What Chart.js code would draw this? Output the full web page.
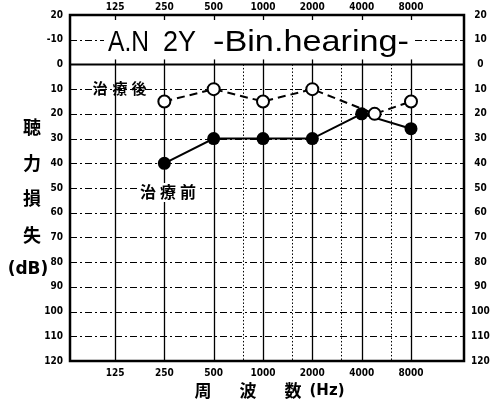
<!DOCTYPE html>
<html>
<head>
<meta charset="utf-8">
<script src="https://cdn.jsdelivr.net/npm/chart.js@4/dist/chart.umd.min.js"></script>
<style>
  html, body { margin: 0; padding: 0; background: #fff; }
  #wrap { position: relative; width: 497px; height: 408px; }
</style>
</head>
<body>
<div id="wrap"><canvas id="c" width="497" height="408"></canvas></div>
<script>
// Audiogram: frequency (Hz, log scale) vs hearing level (dB, reversed)
const freqTicks = [125, 250, 500, 1000, 2000, 4000, 8000];
const halfOctaveFreqs = [750, 1500, 3000, 6000];
const dbGridLevels = [-10, 10, 20, 30, 40, 50, 60, 70, 80, 90, 100, 110];

// 治療後 (after treatment) – open circles, dashed line
const afterFreq = [250, 500, 1000, 2000, 4800, 8000];
const afterDb = [15, 10, 15, 10, 20, 15];

// 治療前 (before treatment) – filled circles, solid line
const beforeFreq = [250, 500, 1000, 2000, 4000, 8000];
const beforeDb = [40, 30, 30, 30, 20, 26];

const titleParts = ['A.N', '2Y', '-Bin.hearing-'];
const afterLabel = '治療後';
const beforeLabel = '治療前';
const yTitleChars = ['聴', '力', '損', '失', '(dB)'];
const xTitleParts = ['周', '波', '数', '(Hz)'];

const tickFont = { family: "'Liberation Sans Narrow', 'DejaVu Sans Condensed', sans-serif", size: 10, weight: 'bold' };
const cjkFont = "'Noto Sans CJK JP', 'Noto Sans CJK SC', sans-serif";

const toPoints = (xs, ys) => xs.map((x, i) => ({ x, y: ys[i] }));

function fixedSize(size) {
  return function (scale) {
    if (scale.isHorizontal()) scale.height = size; else scale.width = size;
  };
}
function setFreqTicks(scale) {
  scale.ticks = freqTicks.map(v => ({ value: v }));
}

// draw text stretched horizontally to span x0..x1
function fitText(ctx, text, x0, x1, y) {
  const w = ctx.measureText(text).width;
  ctx.save();
  ctx.translate(x0, y);
  ctx.scale((x1 - x0) / w, 1);
  ctx.textAlign = 'left';
  ctx.fillText(text, 0, 0);
  ctx.restore();
}
// draw characters one by one at given centres
function spacedText(ctx, text, centres, y) {
  ctx.textAlign = 'center';
  Array.from(text).forEach((ch, i) => ctx.fillText(ch, centres[i], y));
}

const xCommon = {
  type: 'logarithmic',
  min: 66.4,
  max: 16850,
  grid: { display: false, drawTicks: false },
  border: { display: false },
  afterBuildTicks: setFreqTicks,
  ticks: {
    color: '#000',
    font: tickFont,
    maxRotation: 0,
    autoSkip: false,
    callback: (v) => String(v)
  }
};
const yCommon = {
  type: 'linear',
  min: -20,
  max: 120,
  reverse: true,
  grid: { display: false, drawTicks: false },
  border: { display: false },
  ticks: { stepSize: 10, color: '#000', font: tickFont, autoSkip: false }
};

const audiogramDecor = {
  id: 'audiogramDecor',
  beforeDatasetsDraw(chart) {
    const { ctx, chartArea: a, scales } = chart;
    const xs = scales.x, ys = scales.y;
    const y0 = ys.getPixelForValue(0);
    const yB = ys.getPixelForValue(120);
    ctx.save();
    ctx.strokeStyle = '#000';

    // horizontal dashed grid lines
    ctx.lineWidth = 1;
    ctx.setLineDash([7, 3, 2, 3]);
    dbGridLevels.forEach(db => {
      const y = Math.round(ys.getPixelForValue(db)) + 0.5;
      ctx.beginPath(); ctx.moveTo(a.left, y); ctx.lineTo(a.right, y); ctx.stroke();
    });

    // half-octave dotted lines
    ctx.setLineDash([1.5, 2]);
    halfOctaveFreqs.forEach(f => {
      const x = Math.round(xs.getPixelForValue(f)) + 0.5;
      ctx.beginPath(); ctx.moveTo(x, y0); ctx.lineTo(x, yB); ctx.stroke();
    });

    // octave solid lines, with short ticks in the title band
    ctx.setLineDash([]);
    ctx.lineWidth = 1.3;
    freqTicks.forEach(f => {
      const x = Math.round(xs.getPixelForValue(f)) + 0.5;
      ctx.beginPath(); ctx.moveTo(x, y0); ctx.lineTo(x, yB); ctx.stroke();
      ctx.beginPath(); ctx.moveTo(x, a.top); ctx.lineTo(x, a.top + 5); ctx.stroke();
      ctx.beginPath(); ctx.moveTo(x, y0 - 5); ctx.lineTo(x, y0); ctx.stroke();
    });

    // title in the band above 0 dB
    const ty = 43;
    ctx.font = "29px 'Liberation Sans', Arial, sans-serif";
    ctx.textBaseline = 'middle';
    ctx.fillStyle = '#fff';
    ctx.fillRect(104, ty - 14, 310, 28);
    ctx.fillStyle = '#000';
    fitText(ctx, titleParts[0], 108, 149, ty);
    fitText(ctx, titleParts[1], 163, 196, ty);
    fitText(ctx, titleParts[2], 213, 409, ty);

    // frame and 0 dB line
    ctx.lineWidth = 2.5;
    ctx.strokeRect(a.left, a.top, a.right - a.left, a.bottom - a.top);
    ctx.lineWidth = 2;
    ctx.beginPath(); ctx.moveTo(a.left, y0); ctx.lineTo(a.right, y0); ctx.stroke();

    // series labels
    ctx.textBaseline = 'middle';
    ctx.fillStyle = '#fff';
    ctx.fillRect(139, 183, 60, 19);
    ctx.fillStyle = '#000';
    ctx.font = "bold 15px " + cjkFont;
    spacedText(ctx, afterLabel, [100, 120, 139], 88);
    ctx.font = "bold 16px " + cjkFont;
    spacedText(ctx, beforeLabel, [148, 168, 188], 192);

    // axis titles
    const yTitleY = [127, 163, 198, 235, 270];
    yTitleChars.forEach((ch, i) => {
      ctx.textAlign = 'center';
      ctx.font = (i === 4 ? "bold 17px 'DejaVu Sans', sans-serif" : "bold 18px " + cjkFont);
      ctx.fillText(ch, i === 4 ? 28 : 32, yTitleY[i]);
    });
    const xTitleX = [203, 248, 293, 327];
    xTitleParts.forEach((ch, i) => {
      ctx.textAlign = 'center';
      ctx.font = (i === 3 ? "bold 15px 'DejaVu Sans', sans-serif" : "bold 17px " + cjkFont);
      ctx.fillText(ch, xTitleX[i], 391);
    });
    ctx.restore();
  }
};

new Chart(document.getElementById('c'), {
  type: 'scatter',
  data: {
    datasets: [
      {
        label: afterLabel,
        data: toPoints(afterFreq, afterDb),
        showLine: true,
        borderColor: '#000',
        borderWidth: 2,
        borderDash: [8, 5],
        pointRadius: 6,
        pointBorderWidth: 2,
        pointBackgroundColor: '#fff',
        pointBorderColor: '#000',
        xAxisID: 'x', yAxisID: 'y'
      },
      {
        label: beforeLabel,
        data: toPoints(beforeFreq, beforeDb),
        showLine: true,
        borderColor: '#000',
        borderWidth: 2,
        pointRadius: 6.5,
        pointBorderWidth: 0,
        pointBackgroundColor: '#000',
        pointBorderColor: '#000',
        xAxisID: 'x', yAxisID: 'y'
      }
    ]
  },
  options: {
    responsive: false,
    animation: false,
    layout: { padding: 0 },
    plugins: { legend: { display: false }, tooltip: { enabled: false } },
    scales: {
      x: Object.assign({}, xCommon, { position: 'bottom', afterFit: fixedSize(47), ticks: Object.assign({}, xCommon.ticks, { padding: 6 }) }),
      xTop: Object.assign({}, xCommon, { position: 'top', afterFit: fixedSize(15), ticks: Object.assign({}, xCommon.ticks, { padding: 2 }) }),
      y: Object.assign({}, yCommon, {
        position: 'left',
        afterFit: fixedSize(70),
        ticks: Object.assign({}, yCommon.ticks, { padding: 7, callback: v => (v === -10 ? '-10' : String(Math.abs(v))) })
      }),
      yRight: Object.assign({}, yCommon, {
        position: 'right',
        afterFit: fixedSize(33),
        ticks: Object.assign({}, yCommon.ticks, { padding: 7, crossAlign: 'center', callback: v => String(Math.abs(v)) })
      })
    }
  },
  plugins: [audiogramDecor]
});
</script>
</body>
</html>
